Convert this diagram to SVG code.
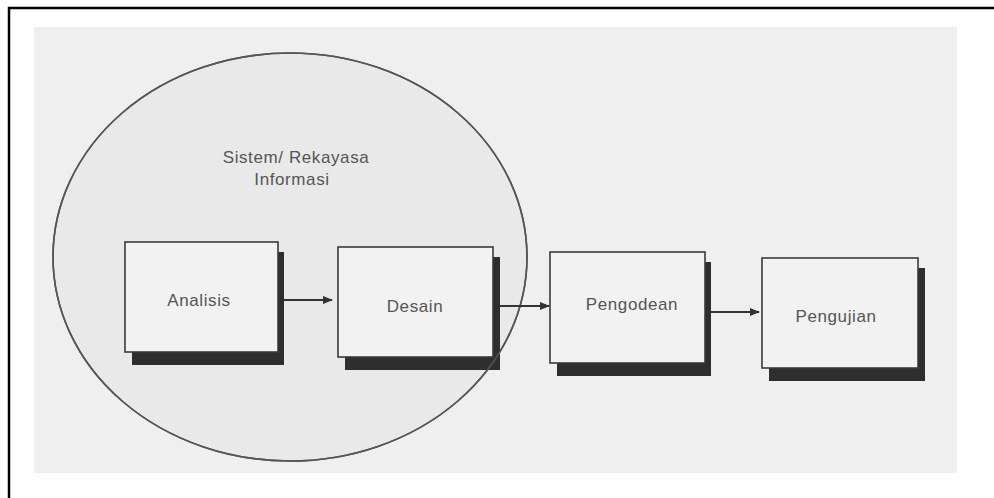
<svg xmlns="http://www.w3.org/2000/svg" width="994" height="498" viewBox="0 0 994 498">
  <defs>
    <style>
      .frame { stroke: #000; stroke-width: 2.5; fill: none; }
      .box { fill: #f2f2f2; stroke: #3a3a3a; stroke-width: 1.6; }
      .shadow { fill: #2e2e2e; }
      .ring { stroke: #555; stroke-width: 1.6; }
      .label { font-family: "Liberation Sans", Arial, sans-serif; font-size: 17px; fill: #555; text-anchor: middle; letter-spacing: 0.6px; }
      .edge { stroke: #333; stroke-width: 2; fill: none; marker-end: url(#head); }
    </style>
    <marker id="head" viewBox="0 0 10 10" refX="9" refY="5" markerWidth="5" markerHeight="5" orient="auto">
      <path d="M0,1 L10,5 L0,9 z" fill="#333"/>
    </marker>
  </defs>

  <!-- page background and frame -->
  <rect x="0" y="0" width="994" height="498" fill="#fff"/>
  <path class="frame" d="M9,498 V8 H994"/>

  <!-- figure area -->
  <rect x="34" y="27" width="923" height="446" fill="#efefef"/>

  <!-- system / information engineering boundary -->
  <g id="boundary">
    <ellipse class="ring" cx="290" cy="257" rx="237" ry="204" fill="#e9e9e9"/>
    <text class="label" x="296" y="163">Sistem/ Rekayasa</text>
    <text class="label" x="292" y="185">Informasi</text>
  </g>

  <g id="analisis">
    <rect class="shadow" x="132" y="252" width="152" height="113"/>
    <rect class="box" x="125" y="242" width="153" height="110"/>
    <text class="label" x="199" y="306">Analisis</text>
  </g>

  <g id="desain">
    <rect class="shadow" x="345" y="257" width="155" height="113"/>
    <rect class="box" x="338" y="247" width="155" height="110"/>
    <text class="label" x="415" y="312">Desain</text>
  </g>

  <g id="pengodean">
    <rect class="shadow" x="557" y="262" width="154" height="114"/>
    <rect class="box" x="550" y="252" width="155" height="111"/>
    <text class="label" x="632" y="310">Pengodean</text>
  </g>

  <g id="pengujian">
    <rect class="shadow" x="769" y="268" width="156" height="113"/>
    <rect class="box" x="762" y="258" width="156" height="110"/>
    <text class="label" x="836" y="322">Pengujian</text>
  </g>

  <!-- boundary outline passes over the box shadows -->
  <ellipse class="ring" cx="290" cy="257" rx="237" ry="204" fill="none"/>

  <!-- connectors -->
  <g id="connectors">
    <line class="edge" x1="284" y1="300" x2="332" y2="300"/>
    <line class="edge" x1="500" y1="306" x2="549" y2="306"/>
    <line class="edge" x1="711" y1="312" x2="759" y2="312"/>
  </g>
</svg>
